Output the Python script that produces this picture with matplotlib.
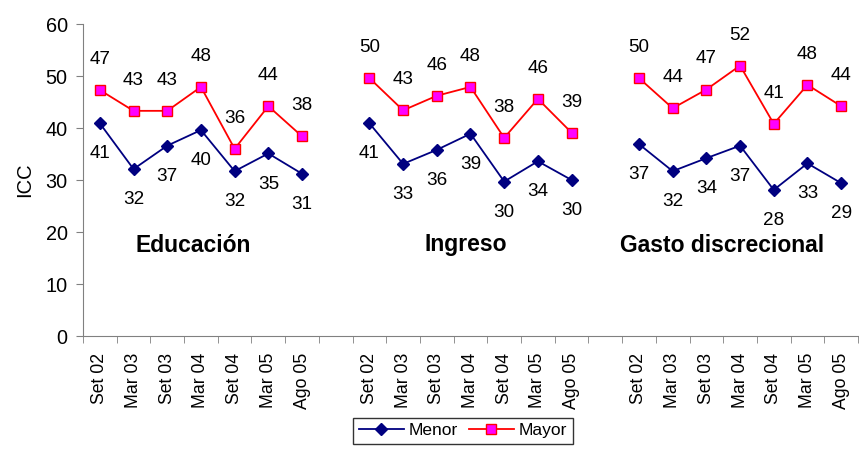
import matplotlib.pyplot as plt
import numpy as np

plt.rcParams['font.family'] = ['Liberation Sans', 'DejaVu Sans']

periods = ['Set 02', 'Mar 03', 'Set 03', 'Mar 04', 'Set 04', 'Mar 05', 'Ago 05']
groups = ['Educación', 'Ingreso', 'Gasto discrecional']

menor_educ = [40.9, 32.1, 36.6, 39.6, 31.7, 35.1, 31.2]
mayor_educ = [47.3, 43.3, 43.3, 47.9, 36.0, 44.2, 38.4]
menor_ingr = [40.9, 33.1, 35.8, 38.9, 29.7, 33.6, 30.0]
mayor_ingr = [49.6, 43.4, 46.2, 47.9, 38.1, 45.6, 39.1]
menor_gast = [36.9, 31.7, 34.2, 36.6, 28.1, 33.2, 29.4]
mayor_gast = [49.6, 43.8, 47.4, 52.0, 40.8, 48.3, 44.2]

menor = [menor_educ, menor_ingr, menor_gast]
mayor = [mayor_educ, mayor_ingr, mayor_gast]

# horizontal nudge of each group title (in category units)
title_shift = [-0.24, -0.14, -0.54]

fig = plt.figure(figsize=(8.59, 4.54), dpi=100)
ax = fig.add_axes([83 / 859, 1 - 336 / 454, (858 - 83) / 859, 312 / 454])

n = len(periods)
labels_all = []
for g in range(len(groups)):
    x = np.arange(n) + g * (n + 1)
    l1, = ax.plot(x, menor[g], color='#000080', marker='D', markersize=6.5,
                  lw=1.3, label='Menor')
    l2, = ax.plot(x, mayor[g], color='red', marker='s', markersize=7,
                  markerfacecolor='#FF00FF', markeredgecolor='red', lw=1.3,
                  label='Mayor')
    for xi, v in zip(x, menor[g]):
        ax.annotate(f'{v:.0f}', (xi, v), xytext=(0, -22), textcoords='offset points',
                    ha='center', va='center', fontsize=13.6)
    for xi, v in zip(x, mayor[g]):
        ax.annotate(f'{v:.0f}', (xi, v), xytext=(0, 22), textcoords='offset points',
                    ha='center', va='center', fontsize=13.6)
    ax.text(x.mean() + title_shift[g], 17.5, groups[g], ha='center', va='center',
            fontsize=16.5, fontweight='bold')
    labels_all += periods + ([''] if g < len(groups) - 1 else [])

total = len(labels_all)
ax.set_xlim(-0.5, total - 0.5)
ax.set_ylim(0, 60)
ax.set_yticks(range(0, 61, 10))
ax.set_xticks(range(total))
ax.set_xticklabels(labels_all, rotation=90, fontsize=12.7)
ax.set_xticks(np.arange(-0.5, total, 1), minor=True)
ax.tick_params(axis='x', which='major', length=0, pad=12)
ax.tick_params(axis='x', which='minor', length=5, direction='out')
ax.tick_params(axis='y', labelsize=14.3, length=5, pad=6)
ax.set_ylabel('ICC', fontsize=14.5, labelpad=8)
for s in ['top', 'right']:
    ax.spines[s].set_visible(False)
ax.spines['left'].set_color('#808080')
ax.spines['bottom'].set_color('#808080')
ax.tick_params(which='both', color='#808080')

fig.legend([l1, l2], ['Menor', 'Mayor'], loc='upper center',
           bbox_to_anchor=(463 / 859, 1 - 418 / 454), ncol=2, fontsize=12.5,
           frameon=True, fancybox=False, edgecolor='black', handlelength=2.6,
           columnspacing=0.6, handletextpad=0.3, borderpad=0.3, borderaxespad=0)

fig.savefig('out.png', dpi=100)
